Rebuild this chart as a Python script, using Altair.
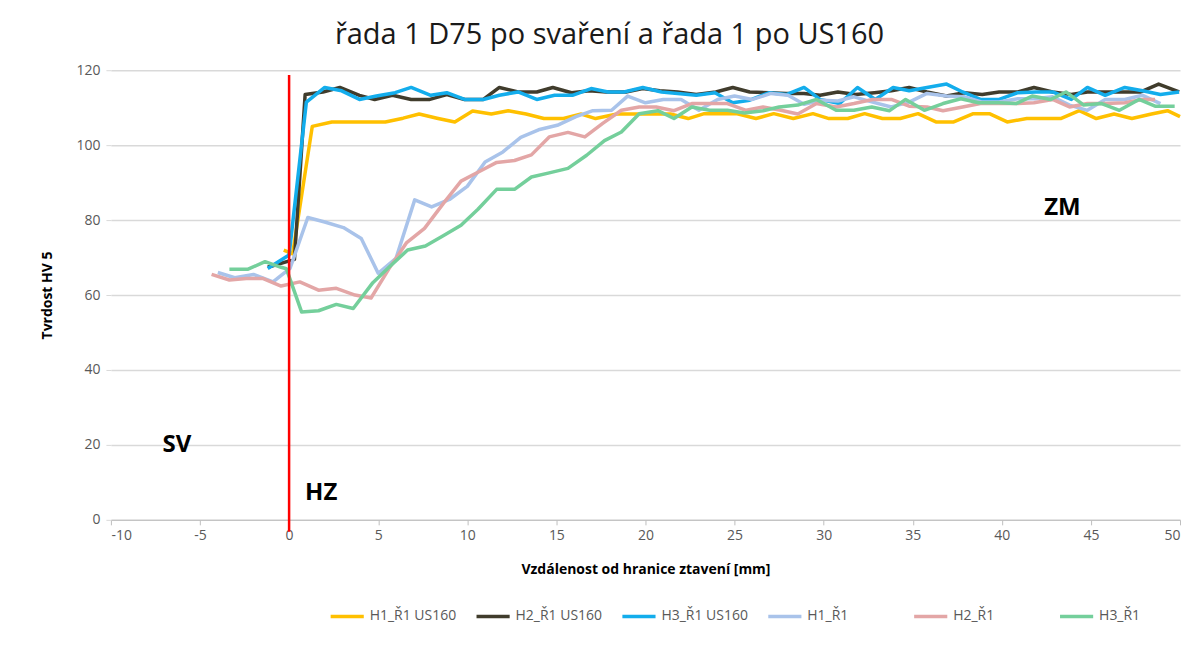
import altair as alt
import pandas as pd

# ---------------- data ----------------
series_names = ["H1_Ř1 US160", "H2_Ř1 US160", "H3_Ř1 US160", "H1_Ř1", "H2_Ř1", "H3_Ř1"]
series_colors = ["#FFC000", "#403C2C", "#13ADEC", "#A9C3EA", "#E3A6A6", "#74CF9B"]
series_widths = [3.5, 3.5, 3.5, 2.5, 2.5, 2.5]

h1_us_x = [-0.3, 0.2, 1.3, 2.4, 3.4, 4.4, 5.4, 6.4, 7.3, 8.3, 9.3, 10.3, 11.35, 12.3, 13.3, 14.3,
           15.4, 16.4, 17.2, 18.4, 19.4, 20.4, 21.4, 22.4, 23.3, 24.3, 25.1, 26.2, 27.2, 28.3, 29.4,
           30.3, 31.35, 32.3, 33.3, 34.3, 35.3, 36.3, 37.3, 38.4, 39.3, 40.3, 41.4, 42.4, 43.3, 44.35,
           45.3, 46.3, 47.3, 48.4, 49.3, 50.0]
h1_us_y = [72, 71, 105, 106.2, 106.2, 106.2, 106.2, 107.2, 108.3, 107.2, 106.2, 109.1, 108.3, 109.2,
           108.3, 107.1, 107.1, 108.3, 107.1, 108.3, 108.3, 108.3, 108.3, 107.1, 108.4, 108.4, 108.4,
           107.1, 108.4, 107.1, 108.4, 107.1, 107.1, 108.4, 107.1, 107.1, 108.4, 106.2, 106.2, 108.4,
           108.4, 106.2, 107.1, 107.1, 107.1, 109.2, 107.1, 108.3, 107.1, 108.3, 109.2, 107.6]

h2_us_x = [-1.2, 0.3, 0.9, 1.9, 2.85, 3.95, 4.8, 5.8, 6.85, 7.9, 8.85, 9.85, 10.9, 11.8, 12.85, 13.9,
           14.8, 15.85, 16.85, 17.8, 18.9, 19.85, 20.8, 21.8, 22.85, 23.95, 24.9, 25.85, 26.95, 27.9,
           28.9, 29.8, 30.8, 31.8, 32.85, 33.8, 34.8, 35.8, 36.9, 37.9, 38.9, 39.85, 40.9, 41.8, 42.85,
           43.9, 44.8, 45.8, 46.9, 47.8, 48.8, 49.95]
h2_us_y = [67.4, 69.5, 113.5, 114.2, 115.4, 113.3, 112.2, 113.3, 112.2, 112.2, 113.5, 112.2, 112.2,
           115.4, 114.2, 114.2, 115.4, 114.0, 114.5, 114.2, 114.2, 115.1, 114.5, 114.2, 113.5, 114.2,
           115.4, 114.2, 114.0, 113.8, 113.8, 113.3, 114.2, 113.5, 114.0, 114.5, 115.4, 114.2, 113.1,
           114.0, 113.5, 114.2, 114.2, 115.4, 114.2, 113.5, 114.2, 114.2, 114.2, 114.2, 116.3, 114.2]

h3_us_x = [-1.2, 0.0, 0.97, 2.0, 2.95, 3.95, 4.9, 5.95, 6.85, 7.95, 8.85, 9.85, 10.9, 11.8, 12.85,
           13.9, 14.9, 15.9, 16.95, 17.9, 18.8, 19.85, 20.9, 21.8, 22.85, 23.9, 24.9, 25.85, 26.95,
           27.9, 28.9, 29.8, 30.9, 31.9, 32.9, 33.9, 34.8, 35.8, 36.9, 37.8, 38.8, 39.85, 40.9, 41.9,
           42.85, 43.9, 44.8, 45.8, 46.9, 47.9, 48.9, 49.95]
h3_us_y = [67.1, 70.7, 111.5, 115.4, 114.5, 112.2, 113.1, 114.0, 115.4, 113.3, 114.0, 112.2, 112.2,
           113.3, 114.2, 112.2, 113.3, 113.3, 115.1, 114.2, 114.2, 115.4, 114.2, 113.8, 113.3, 114.0,
           111.3, 112.0, 114.0, 113.5, 115.4, 112.2, 111.1, 115.4, 112.2, 115.4, 114.5, 115.4, 116.3,
           114.2, 112.2, 112.2, 114.0, 114.2, 114.2, 112.2, 115.4, 113.3, 115.4, 114.5, 113.5, 114.2]

h1_x = [-4.0, -3.05, -2.0, -0.9, 0.05, 1.05, 2.0, 3.05, 4.05, 5.0, 6.0, 7.05, 8.0, 9.0, 10.0, 11.0,
        12.0, 13.0, 14.0, 15.05, 16.1, 17.05, 18.1, 19.0, 20.0, 21.0, 22.0, 23.0, 24.05, 25.0, 26.0,
        27.05, 28.0, 28.9, 29.9, 30.8, 31.7, 32.75, 33.8, 34.8, 35.8, 36.9, 37.9, 38.9, 39.85, 40.9,
        41.9, 42.85, 43.8, 44.8, 45.8, 46.9, 47.9, 48.9]
h1_y = [66.0, 64.6, 65.5, 63.5, 67.1, 80.7, 79.5, 78.0, 75.1, 65.8, 69.8, 85.4, 83.5, 85.5, 89.0,
        95.5, 98.2, 102.1, 104.1, 105.3, 107.6, 109.2, 109.3, 113.1, 111.3, 112.2, 112.2, 109.3,
        112.2, 113.1, 112.2, 113.8, 113.3, 110.9, 112.0, 111.8, 112.9, 111.5, 110.2, 111.5, 113.8,
        113.1, 112.9, 111.5, 111.5, 112.4, 112.4, 112.9, 110.7, 109.3, 112.2, 112.2, 113.3, 111.1]

h2_x = [-4.35, -3.35, -2.4, -1.45, -0.45, 0.6, 1.65, 2.65, 3.7, 4.6, 5.6, 6.6, 7.6, 8.65, 9.65,
        10.65, 11.65, 12.65, 13.6, 14.6, 15.65, 16.6, 17.6, 18.65, 19.65, 20.6, 21.6, 22.6, 23.6,
        24.6, 25.65, 26.6, 27.6, 28.55, 29.6, 30.7, 31.7, 32.75, 33.8, 34.8, 35.8, 36.7, 37.8, 38.8,
        39.85, 40.9, 41.8, 42.85, 43.8, 44.8, 45.8, 46.9, 47.9, 48.6]
h2_y = [65.5, 64.0, 64.4, 64.4, 62.4, 63.5, 61.3, 61.8, 60.0, 59.2, 67.0, 74.0, 77.8, 84.4, 90.4,
        92.9, 95.4, 95.9, 97.4, 102.2, 103.4, 102.2, 105.8, 109.3, 110.2, 110.2, 109.2, 111.1, 111.1,
        111.1, 109.3, 110.2, 109.3, 108.3, 111.1, 110.2, 111.1, 112.2, 112.2, 110.4, 110.2, 109.2,
        110.2, 111.1, 111.1, 111.1, 111.3, 112.2, 110.2, 111.1, 111.1, 111.3, 112.2, 112.2]

h3_x = [-3.35, -2.3, -1.35, -0.45, -0.15, 0.7, 1.65, 2.65, 3.6, 4.7, 5.65, 6.65, 7.65, 8.65, 9.65,
        10.6, 11.65, 12.65, 13.6, 14.6, 15.65, 16.7, 17.7, 18.65, 19.65, 20.7, 21.6, 22.6, 23.6,
        24.6, 25.55, 26.6, 27.5, 28.55, 29.6, 30.7, 31.7, 32.7, 33.7, 34.6, 35.65, 36.7, 37.7, 38.7,
        39.85, 40.8, 41.7, 42.75, 43.6, 44.6, 45.6, 46.6, 47.7, 48.6, 49.7]
h3_y = [66.9, 66.9, 68.9, 67.4, 67.0, 55.5, 55.8, 57.5, 56.4, 63.3, 67.6, 72.0, 73.1, 75.8, 78.6,
        82.9, 88.2, 88.2, 91.5, 92.6, 93.8, 97.3, 101.2, 103.5, 108.4, 109.2, 107.1, 110.2, 109.3,
        109.3, 108.6, 109.2, 110.2, 110.7, 112.2, 109.3, 109.3, 110.2, 109.2, 112.2, 109.3, 111.1,
        112.4, 111.3, 111.3, 111.1, 113.1, 112.2, 114.2, 110.7, 111.1, 109.3, 112.2, 110.4, 110.4]

zone_labels = ["SV", "HZ", "ZM"]
zone_x = [-6.3, 1.8, 43.4]
zone_y = [20.0, 7.2, 83.2]

boundary_x = [0]
boundary_y0 = [-3.2]
boundary_y1 = [118.7]

x_ticks = list(range(-10, 51, 5))
y_ticks = list(range(0, 121, 20))

# ---------------- build table ----------------
rows = []
for name, xs, ys in zip(series_names,
                        [h1_us_x, h2_us_x, h3_us_x, h1_x, h2_x, h3_x],
                        [h1_us_y, h2_us_y, h3_us_y, h1_y, h2_y, h3_y]):
    for i, (xv, yv) in enumerate(zip(xs, ys)):
        rows.append({"series": name, "x": xv, "y": yv, "i": i})
df = pd.DataFrame(rows)

zones = pd.DataFrame({"label": zone_labels, "x": zone_x, "y": zone_y})
boundary = pd.DataFrame({"x": boundary_x, "y": boundary_y0, "y2": boundary_y1})

FONT = "Open Sans"

xscale = alt.Scale(domain=[-10, 50], nice=False, zero=False)
yscale = alt.Scale(domain=[0, 120], nice=False)

lines = alt.Chart(df).mark_line(strokeJoin="round").encode(
    x=alt.X("x:Q", scale=xscale,
            axis=alt.Axis(title="Vzdálenost od hranice ztavení [mm]", values=x_ticks, grid=False,
                          tickSize=5, tickColor="#BFBFBF", domainColor="#BFBFBF", labelPadding=4,
                          titlePadding=20, labelExpr="datum.value + ''")),
    y=alt.Y("y:Q", scale=yscale,
            axis=alt.Axis(title="Tvrdost HV 5", values=y_ticks, grid=True, gridColor="#D9D9D9",
                          gridWidth=1.5, domain=False, tickSize=5, tickColor="#D9D9D9",
                          labelPadding=6, titlePadding=21)),
    color=alt.Color("series:O", scale=alt.Scale(domain=series_names, range=series_colors),
                    legend=alt.Legend(title=None)),
    strokeWidth=alt.StrokeWidth("series:O",
                                scale=alt.Scale(domain=series_names, range=series_widths),
                                legend=alt.Legend(title=None)),
    order="i:Q",
    detail="series:N",
)

rule = alt.Chart(boundary).mark_rule(color="#FF0000", strokeWidth=2.5).encode(
    x="x:Q", y="y:Q", y2="y2:Q"
)

texts = alt.Chart(zones).mark_text(font=FONT, fontSize=24, fontWeight="bold", color="#000000",
                                   align="center", baseline="middle").encode(
    x="x:Q", y="y:Q", text="label:N"
)

chart = alt.layer(lines, rule, texts).properties(
    width=1070,
    height=450,
    title=alt.TitleParams("řada 1 D75 po svaření a řada 1 po US160", font=FONT, fontSize=29,
                          fontWeight="normal", color="#1A1A1A", dx=-36, offset=13),
    autosize=alt.AutoSizeParams(type="none"),
    padding={"left": 103, "top": 62, "right": 10, "bottom": 120},
).configure_axis(
    labelFont=FONT, labelFontSize=14, labelColor="#595959",
    titleFont=FONT, titleFontSize=14, titleFontWeight="bold", titleColor="#000000",
).configure_legend(
    orient="none", direction="horizontal", legendX=218, legendY=528,
    symbolType="stroke", symbolSize=1100, labelFont=FONT, labelFontSize=14,
    labelColor="#595959", labelOffset=4, columnPadding=12, gridAlign="all",
).configure_view(stroke=None)

chart.save("out.html", embed_options={"renderer": "svg", "actions": False})
